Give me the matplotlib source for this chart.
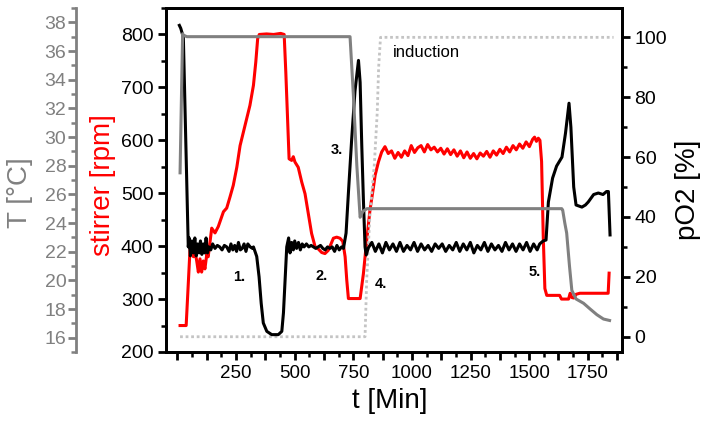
import matplotlib
matplotlib.use("Agg")
import matplotlib.pyplot as plt
from matplotlib.ticker import MultipleLocator, FuncFormatter

plt.rcParams['font.family'] = ['Liberation Sans', 'DejaVu Sans']

# stirrer speed [rpm] (red, left axis)
stir_t = [11, 37, 54, 68, 75, 82, 89, 96, 103, 110, 117, 125, 131, 139, 146, 160, 174,
          196, 210, 224, 238, 253, 267, 288, 309, 324, 334, 342, 349, 380, 410, 440, 455,
          462, 470, 476, 487, 494, 501, 515, 530, 544, 558, 572, 587, 600, 615, 629, 643,
          650, 665, 679, 693, 705, 715, 722, 729, 779, 793, 807, 821, 836,
          843, 857, 871, 885, 899, 913, 927, 941, 955, 969, 983, 997, 1011, 1025, 1039,
          1053, 1067, 1081, 1095, 1109, 1123, 1137, 1151, 1165, 1179, 1193, 1207, 1221,
          1235, 1249, 1263, 1277, 1291, 1305, 1319, 1333, 1347, 1361, 1375, 1389, 1403,
          1417, 1431, 1445, 1459, 1473, 1487, 1501, 1515, 1523, 1531, 1539, 1546, 1553,
          1560, 1567, 1575, 1630, 1638, 1668, 1675, 1682, 1690, 1700, 1716, 1837, 1841]
stir_rpm = [250, 250, 399, 380, 389, 372, 351, 376, 351, 372, 357, 385, 380, 408, 434,
            425, 437, 465, 472, 493, 515, 549, 590, 628, 666, 704, 748, 792, 800, 801, 800,
            802, 800, 729, 635, 565, 562, 569, 559, 549, 521, 499, 462, 424, 399, 395, 388,
            386, 392, 399, 415, 417, 415, 409, 380, 336, 301, 301, 348, 411, 468, 512,
            534, 559, 578, 588, 575, 580, 566, 577, 568, 580, 571, 590, 577, 586, 590,
            578, 592, 582, 587, 578, 585, 574, 584, 573, 582, 570, 580, 567,
            578, 566, 575, 565, 576, 570, 579, 568, 580, 572, 583, 575, 587,
            578, 590, 582, 593, 585, 597, 588, 602, 606, 598, 604, 600, 560,
            420, 320, 307, 307, 300, 300, 311, 303, 302, 309, 311, 311, 349]

# dissolved oxygen pO2 [%] (black, right axis)
po2_t = [8, 14, 25, 32, 40, 46, 50, 55, 62, 68, 74, 80, 86, 92, 98, 104, 110, 116, 122,
         128, 134, 142, 150, 160, 170, 180, 190, 200, 210, 220, 228, 236, 244, 252, 260,
         268, 276, 284, 292, 300, 310, 320, 324, 338, 348, 357, 366, 381, 402, 430, 445,
         452, 459, 466, 474, 480, 487, 494, 500, 508, 516, 524, 532, 540, 550, 560, 570,
         580, 590, 600, 610, 620, 630, 640, 650, 660, 670, 680, 690, 700, 708, 719, 729,
         743, 757, 772, 779, 786, 793, 800, 805, 814,
         829, 844, 859, 874, 889, 904, 919, 934, 949, 964, 979, 994, 1009, 1024, 1039,
         1054, 1069, 1084, 1099, 1114, 1129, 1144, 1159, 1174, 1189, 1204, 1219, 1234,
         1249, 1264, 1279, 1294, 1309, 1324, 1339, 1354, 1369, 1384, 1399, 1414, 1429,
         1444, 1459, 1474, 1489, 1504, 1519, 1534, 1545, 1560, 1572, 1582, 1600, 1617,
         1640, 1655, 1670, 1678, 1690, 1700, 1725, 1740, 1752, 1775, 1795, 1815, 1830,
         1838, 1845]
po2_v = [104, 103, 100, 77, 52, 30, 33, 27, 32, 28, 33, 27, 31, 28, 32, 27.5, 31, 28, 33,
         28, 30, 29, 31, 29.5, 30.5, 30, 29, 30.5, 30, 28.5, 31, 29, 30.5, 28.5, 31.5,
         29, 29.5, 31, 28.5, 31, 30, 29.5, 30, 26.8, 20, 11.2, 4.6, 1.8, 0.7, 0.7, 1.8,
         8, 19, 30, 33, 28, 31.5, 29, 32, 29.5, 31.5, 29, 31, 30, 31, 30, 30.5,
         30, 29.5, 30, 30.5, 29.5, 29, 30, 29.5, 30, 28.5, 30.5, 29, 30, 29.5, 34.6, 48,
         66, 82, 92.3, 85, 64, 45.7, 30, 27.3, 29.7,
         31.5, 28.5, 31, 28, 31.5, 29, 31, 28.5, 31.5, 28.5, 30.5, 29, 31.5, 28.5, 31,
         29, 30.5, 28.5, 31, 29.5, 31, 28.5, 30.5, 29, 31.5, 28.5, 31, 29,
         31.5, 28, 30.5, 29, 31.5, 28.5, 31, 29, 30.5, 28.5, 31.5, 29, 31,
         28.5, 31, 29, 31.5, 28.5, 31, 29, 31, 32, 32.3, 45, 53, 57,
         60, 68, 78, 70, 50, 44, 43.3, 44, 45, 47.5, 48, 47.5, 48.5,
         48.5, 34]

# induction signal (dotted, pO2 scale)
ind_t = [11, 800, 807, 821, 840, 852, 858, 866, 1860]
ind_v = [0, 0, 19, 41, 58, 75, 90, 100, 100]

# temperature [°C] (gray, far left axis)
temp_t = [11, 16, 22, 26, 40, 736, 750, 765, 779, 790, 808, 1639, 1643, 1652, 1660,
          1672, 1682, 1700, 1732, 1760, 1789, 1817, 1843]
temp_v = [27.5, 32, 37.2, 37.1, 37.0, 37.0, 33, 28, 24.4, 24.8, 25.0, 25.0, 24.9, 24.0,
          23.3, 21.0, 19.3, 18.7, 18.4, 18.0, 17.6, 17.3, 17.2]

# event markers
event_labels = ["1.", "2.", "3.", "4.", "5."]
event_t = [263, 616, 680, 868, 1525]
event_po2 = [20, 20.3, 62.3, 17.6, 21.6]

GRAY = "#808080"

fig = plt.figure(figsize=(7.05, 4.24), dpi=100)
ax = fig.add_axes([166 / 705, 1 - 352 / 424, 456 / 705, 344 / 424])
ax2 = ax.twinx()
ax3 = ax.twinx()

ax.plot(stir_t, stir_rpm, color="#ff0000", lw=2.2)
ax2.plot(ind_t, ind_v, color="#c4c4c4", lw=2, ls=(0, (1, 1)))
ax2.plot(po2_t, po2_v, color="black", lw=2.2)
ax3.plot(temp_t, temp_v, color=GRAY, lw=2.2)

ax.set_xlim(-49, 1896)
ax.set_ylim(200, 850)
ax2.set_ylim(-5.1, 109.8)
ax3.set_ylim(15, 39)

# x axis
ax.xaxis.set_major_locator(MultipleLocator(125))
ax.xaxis.set_minor_locator(MultipleLocator(62.5))
ax.xaxis.set_major_formatter(FuncFormatter(lambda v, p: f"{int(v)}" if v > 0 and v % 250 == 0 else ""))

ax.yaxis.set_major_locator(MultipleLocator(100))
ax.yaxis.set_minor_locator(MultipleLocator(50))
ax2.yaxis.set_major_locator(MultipleLocator(20))
ax2.yaxis.set_minor_locator(MultipleLocator(10))
ax3.yaxis.set_major_locator(MultipleLocator(2))
ax3.yaxis.set_minor_locator(MultipleLocator(1))

for a in (ax, ax2):
    for s in a.spines.values():
        s.set_linewidth(2)
ax.tick_params(which="major", direction="out", length=6, width=2, labelsize=14, pad=3)
ax.tick_params(which="minor", direction="out", length=3.5, width=1.8)
ax.tick_params(axis="x", labelsize=13.5)
ax2.tick_params(which="major", direction="out", length=6, width=2, labelsize=14, pad=3)
ax2.tick_params(which="minor", direction="out", length=3.5, width=1.8)

# temperature axis
for side in ("top", "right", "bottom"):
    ax3.spines[side].set_visible(False)
ax3.spines["left"].set_visible(True)
ax3.spines["left"].set_position(("axes", -0.197))
ax3.spines["left"].set_color(GRAY)
ax3.spines["left"].set_linewidth(2)
ax3.yaxis.set_ticks_position("left")
ax3.tick_params(which="major", direction="out", length=6, width=2, labelsize=14,
                pad=1, color=GRAY, labelcolor=GRAY)
ax3.tick_params(which="minor", direction="out", length=3.5, width=1.8, color=GRAY)

# axis titles
fig.text(20 / 705, 1 - 193 / 424, "T [°C]", rotation=90, ha="center", va="center",
         fontsize=20, color=GRAY)
fig.text(103 / 705, 1 - 185 / 424, "stirrer [rpm]", rotation=90, ha="center", va="center",
         fontsize=20, color="#ff0000")
fig.text(688 / 705, 1 - 190 / 424, "pO2 [%]", rotation=90, ha="center", va="center",
         fontsize=20, color="black")
fig.text(390 / 705, 1 - 401 / 424, "t [Min]", ha="center", va="center", fontsize=20)

for lab, t, v in zip(event_labels, event_t, event_po2):
    ax2.text(t, v, lab, ha="center", va="center", fontsize=10.5, fontweight="bold")
ax2.text(919, 94.8, "induction", ha="left", va="center", fontsize=12)

fig.savefig("out.png", dpi=100)
